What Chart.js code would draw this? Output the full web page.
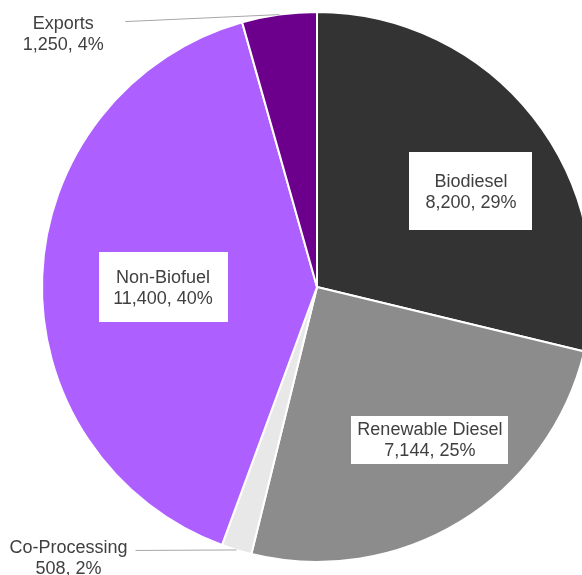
<!DOCTYPE html>
<html>
<head>
<meta charset="utf-8">
<script src="https://cdn.jsdelivr.net/npm/chart.js@4/dist/chart.umd.min.js"></script>
<style>
html,body{margin:0;padding:0;background:#fff;overflow:hidden;width:582px;height:575px;}
#wrap{position:relative;width:582px;height:575px;overflow:hidden;}
canvas{position:absolute;left:0;top:0;}
</style>
</head>
<body>
<div id="wrap"><canvas id="c" width="634" height="575"></canvas></div>
<script>
// ---- data ----
const categories = ['Biodiesel', 'Renewable Diesel', 'Co-Processing', 'Non-Biofuel', 'Exports'];
const values = [8200, 7144, 508, 11400, 1250];
const colors = ['#333333', '#8c8c8c', '#e8e8e8', '#ad5fff', '#6c008c'];

// ---- label styling (placement relative to slices) ----
const labelStyles = [
  {type: 'in', frac: 0.659, da: 6.4, w: 123, h: 78},
  {type: 'in', frac: 0.690, da: -5.2, w: 157, h: 48},
  {type: 'out', dx: -168, dy: 7, lx: -101, ly: 0.5},
  {type: 'in', frac: 0.560, da: -2.2, w: 129, h: 70},
  {type: 'out', dx: -216, dy: 18.4, lx: -154, ly: 7}
];

const total = values.reduce((a, b) => a + b, 0);
function labelLines(i) {
  const pct = Math.round(values[i] / total * 100);
  return [categories[i], values[i].toLocaleString('en-US') + ', ' + pct + '%'];
}

const FONT = '18px "Liberation Sans", Arial, sans-serif';
const LINE_H = 21;
const CAP_OFF = 6.4;

const labelPlugin = {
  id: 'pieLabels',
  afterDatasetsDraw(chart) {
    const ctx = chart.ctx;
    const meta = chart.getDatasetMeta(0);
    ctx.save();
    ctx.font = FONT;
    ctx.textAlign = 'center';
    ctx.textBaseline = 'alphabetic';
    meta.data.forEach((arc, i) => {
      const p = arc.getProps(['x', 'y', 'startAngle', 'endAngle', 'outerRadius'], true);
      const mid = (p.startAngle + p.endAngle) / 2;
      const st = labelStyles[i];
      const lines = labelLines(i);
      let cx, cy;
      if (st.type === 'in') {
        const a = mid + st.da * Math.PI / 180;
        const r = p.outerRadius * st.frac;
        cx = p.x + Math.cos(a) * r;
        cy = p.y + Math.sin(a) * r;
        ctx.fillStyle = '#ffffff';
        ctx.fillRect(Math.round(cx - st.w / 2), Math.round(cy - st.h / 2), st.w, st.h);
      } else {
        const ex = p.x + Math.cos(mid) * p.outerRadius;
        const ey = p.y + Math.sin(mid) * p.outerRadius;
        cx = ex + st.dx;
        cy = ey + st.dy;
        ctx.strokeStyle = '#a6a6a6';
        ctx.lineWidth = 1;
        ctx.beginPath();
        ctx.moveTo(ex + st.lx, ey + st.ly);
        ctx.lineTo(ex, ey);
        ctx.stroke();
      }
      ctx.fillStyle = '#404040';
      lines.forEach((t, k) => {
        const ly = cy + (k - (lines.length - 1) / 2) * LINE_H + CAP_OFF;
        ctx.fillText(t, cx, ly);
      });
    });
    ctx.restore();
  }
};

new Chart(document.getElementById('c'), {
  type: 'pie',
  data: {
    labels: categories,
    datasets: [{
      data: values,
      backgroundColor: colors,
      borderColor: '#ffffff',
      borderWidth: 2
    }]
  },
  options: {
    responsive: false,
    animation: false,
    layout: {padding: {top: 11, bottom: 12, left: 0, right: 0}},
    plugins: {
      legend: {display: false},
      tooltip: {enabled: false}
    }
  },
  plugins: [labelPlugin]
});
</script>
</body>
</html>
